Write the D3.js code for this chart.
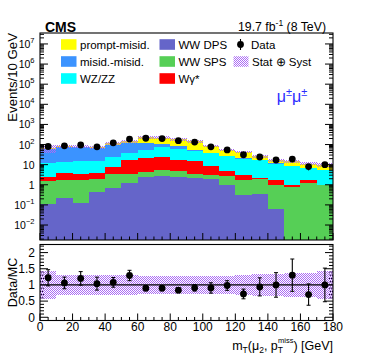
<!DOCTYPE html>
<html>
<head>
<meta charset="utf-8">
<script src="https://cdn.jsdelivr.net/npm/d3@7"></script>
<style>
  body { margin: 0; background: #fff; }
  text { font-family: "Liberation Sans", Arial, Helvetica, sans-serif; fill: #000; }
</style>
</head>
<body>
<div id="chart"></div>
<script>
// bin low edges, 10 GeV wide
const bins = [0, 10, 20, 30, 40, 50, 60, 70, 80, 90, 100, 110, 120, 130, 140, 150, 160, 170];
const binWidth = 10;

// backgrounds (events / bin), bottom of stack first
const wwDps       = [0.11, 0.22, 0.13, 0.44, 0.66, 1.26, 2.5, 2.8, 2.5, 2.2, 1.9, 1.0, 0.31, 0.34, 0.062, 0, 0, 0];
const wwSps       = [1.4, 1.5, 1.6, 1.6, 2.8, 2.1, 2.0, 2.5, 2.3, 1.1, 1.1, 1.8, 1.5, 1.5, 0.94, 0.78, 1.2, 1.0];
const wGamma      = [1.0, 2.0, 1.7, 2.0, 4.4, 13.6, 16.5, 17.7, 12.7, 11.3, 5.2, 2.2, 1.2, 0.4, 0.7, 0.22, 0.5, 0];
const wzZz        = [9, 9.3, 11.1, 11.5, 15.1, 22, 34, 50, 44.5, 34.4, 29.8, 21, 17, 14.4, 9.6, 7.5, 4.8, 4.4];
const misidMisid  = [50, 59, 57.5, 52.5, 77, 85, 64, 33, 19, 6, 2, 1, 1, 0.4, 0.2, 0.2, 0.1, 0.1];
const promptMisid = [4, 9, 7, 6, 13, 20, 109, 114, 104, 90, 45, 28, 22, 8.5, 5.5, 5.9, 4.8, 4.5];

// observed
const dataCounts = [80, 86, 95, 77, 122, 186, 205, 198, 155, 132, 77, 54, 31, 24, 17, 19, 8, 10];
// error bars drawn in the ratio panel
const ratioErr = [0.25, 0.18, 0.21, 0.2, 0.15, 0.16, 0.08, 0.08, 0.08, 0.1, 0.16, 0.15, 0.15, 0.28, 0.38, 0.5, 0.33, 0.52];
// relative stat+syst uncertainty on the prediction, ratio panel and upper panel
const mcRelUnc    = [0.43, 0.3, 0.3, 0.3, 0.3, 0.3, 0.28, 0.28, 0.28, 0.29, 0.28, 0.28, 0.3, 0.33, 0.34, 0.38, 0.38, 0.43];
const mcRelUncTop = [0.42, 0.15, 0.15, 0.15, 0.15, 0.15, 0.15, 0.15, 0.15, 0.15, 0.15, 0.15, 0.16, 0.17, 0.18, 0.2, 0.2, 0.25];

const xTicks = [0, 20, 40, 60, 80, 100, 120, 140, 160, 180];
const logTicks = [-2, -1, 0, 1, 2, 3, 4, 5, 6, 7];
const ratioTicks = [0, 0.5, 1, 1.5, 2];

const keys = ['wwDps', 'wwSps', 'wGamma', 'wzZz', 'misidMisid', 'promptMisid'];
const colors = {
  wwDps: '#6565c9',
  wwSps: '#56cf56',
  wGamma: '#ff0000',
  wzZz: '#00ffff',
  misidMisid: '#3b93ff',
  promptMisid: '#ffff00'
};

const W = 374, H = 359;
const left = 40, right = 333;
const top1 = 33, bottom1 = 240;
const top2 = 244.5, bottom2 = 320.5;

const svg = d3.select('#chart').append('svg')
  .attr('width', W)
  .attr('height', H);

const defs = svg.append('defs');
const hatch = defs.append('pattern')
  .attr('id', 'hatch')
  .attr('patternUnits', 'userSpaceOnUse')
  .attr('width', 2)
  .attr('height', 2);
hatch.append('rect').attr('x', 0).attr('y', 0).attr('width', 1).attr('height', 1).attr('fill', '#ab6cf3');
hatch.append('rect').attr('x', 1).attr('y', 1).attr('width', 1).attr('height', 1).attr('fill', '#ab6cf3');

defs.append('clipPath').attr('id', 'clip1')
  .append('rect').attr('x', left).attr('y', top1).attr('width', right - left).attr('height', bottom1 - top1);
defs.append('clipPath').attr('id', 'clip2')
  .append('rect').attr('x', left).attr('y', top2).attr('width', right - left).attr('height', bottom2 - top2);

const x = d3.scaleLinear().domain([0, 180]).range([left, right]);
const yMin = 0.0018, yMax = 3.5e7;
const y = d3.scaleLog().domain([yMin, yMax]).range([bottom1, top1]).clamp(true);
const yr = d3.scaleLinear().domain([-0.1, 2.25]).range([bottom2, top2]);

const table = bins.map((b, i) => ({
  bin: b,
  wwDps: wwDps[i],
  wwSps: wwSps[i],
  wGamma: wGamma[i],
  wzZz: wzZz[i],
  misidMisid: misidMisid[i],
  promptMisid: promptMisid[i]
}));
const series = d3.stack().keys(keys)(table);
const totals = table.map((d, i) => series[series.length - 1][i][1]);

// ---------- upper panel ----------
const g1 = svg.append('g').attr('clip-path', 'url(#clip1)');

series.forEach(s => {
  g1.append('g')
    .selectAll('rect')
    .data(s.filter(d => d[1] - d[0] > 0))
    .join('rect')
      .attr('x', d => x(d.data.bin))
      .attr('width', d => x(d.data.bin + binWidth) - x(d.data.bin))
      .attr('y', d => y(Math.max(d[1], yMin)))
      .attr('height', d => y(Math.max(d[0], yMin)) - y(Math.max(d[1], yMin)))
      .attr('fill', colors[s.key])
      .attr('shape-rendering', 'crispEdges');
});

g1.append('g')
  .selectAll('rect')
  .data(bins)
  .join('rect')
    .attr('x', b => x(b))
    .attr('width', b => x(b + binWidth) - x(b))
    .attr('y', (b, i) => y(totals[i] * (1 + mcRelUncTop[i])))
    .attr('height', (b, i) => y(totals[i] * (1 - mcRelUncTop[i])) - y(totals[i] * (1 + mcRelUncTop[i])))
    .attr('fill', 'url(#hatch)')
    .attr('shape-rendering', 'crispEdges');

const pts1 = g1.append('g');
pts1.selectAll('line')
  .data(bins)
  .join('line')
    .attr('x1', b => x(b + binWidth / 2))
    .attr('x2', b => x(b + binWidth / 2))
    .attr('y1', (b, i) => y(dataCounts[i] + Math.sqrt(dataCounts[i])))
    .attr('y2', (b, i) => y(dataCounts[i] - Math.sqrt(dataCounts[i])))
    .attr('stroke', '#000')
    .attr('stroke-width', 1);
pts1.selectAll('circle')
  .data(bins)
  .join('circle')
    .attr('cx', b => x(b + binWidth / 2))
    .attr('cy', (b, i) => y(dataCounts[i]))
    .attr('r', 3.4)
    .attr('fill', '#000');

// frame + ticks upper
svg.append('rect')
  .attr('x', left).attr('y', top1)
  .attr('width', right - left).attr('height', bottom1 - top1)
  .attr('fill', 'none').attr('stroke', '#000').attr('stroke-width', 1.1);

const ticks = svg.append('g').attr('stroke', '#000').attr('stroke-width', 1);
const minorLog = [];
for (let e = -3; e <= 7; e++) {
  for (let m = 2; m <= 9; m++) {
    const v = m * Math.pow(10, e);
    if (v > yMin && v < yMax) minorLog.push(v);
  }
}
logTicks.forEach(e => {
  const yy = y(Math.pow(10, e));
  ticks.append('line').attr('x1', left).attr('x2', left + 8).attr('y1', yy).attr('y2', yy);
  ticks.append('line').attr('x1', right).attr('x2', right - 8).attr('y1', yy).attr('y2', yy);
});
minorLog.forEach(v => {
  const yy = y(v);
  ticks.append('line').attr('x1', left).attr('x2', left + 4).attr('y1', yy).attr('y2', yy);
  ticks.append('line').attr('x1', right).attr('x2', right - 4).attr('y1', yy).attr('y2', yy);
});

const xMinor = [];
for (let v = 5; v < 180; v += 5) if (v % 20 !== 0) xMinor.push(v);

function xTickMarks(yBase) {
  xTicks.forEach(v => {
    ticks.append('line').attr('x1', x(v)).attr('x2', x(v)).attr('y1', yBase).attr('y2', yBase - 7);
  });
  xMinor.forEach(v => {
    ticks.append('line').attr('x1', x(v)).attr('x2', x(v)).attr('y1', yBase).attr('y2', yBase - 3.5);
  });
}
xTickMarks(bottom1);

const yLab = svg.append('g').attr('font-size', 10.5).attr('text-anchor', 'end');
logTicks.forEach(e => {
  const t = yLab.append('text')
    .attr('x', 34.5)
    .attr('y', y(Math.pow(10, e)) + 4);
  if (e === 0) t.text('1');
  else if (e === 1) t.text('10');
  else {
    t.append('tspan').text('10');
    t.append('tspan').attr('dy', -5).attr('font-size', 7.5).text(e < 0 ? '\u2212' + (-e) : e);
  }
});

// ---------- ratio panel ----------
const g2 = svg.append('g').attr('clip-path', 'url(#clip2)');
g2.append('g')
  .selectAll('rect')
  .data(bins)
  .join('rect')
    .attr('x', b => x(b))
    .attr('width', b => x(b + binWidth) - x(b))
    .attr('y', (b, i) => yr(1 + mcRelUnc[i]))
    .attr('height', (b, i) => yr(1 - mcRelUnc[i]) - yr(1 + mcRelUnc[i]))
    .attr('fill', 'url(#hatch)')
    .attr('shape-rendering', 'crispEdges');

g2.append('line')
  .attr('x1', left).attr('x2', right)
  .attr('y1', yr(1)).attr('y2', yr(1))
  .attr('stroke', '#000').attr('stroke-width', 1.2);

const ratio = dataCounts.map((d, i) => d / totals[i]);
const pts2 = g2.append('g');
pts2.selectAll('line')
  .data(bins)
  .join('line')
    .attr('x1', b => x(b + binWidth / 2))
    .attr('x2', b => x(b + binWidth / 2))
    .attr('y1', (b, i) => yr(ratio[i] + ratioErr[i]))
    .attr('y2', (b, i) => yr(ratio[i] - ratioErr[i]))
    .attr('stroke', '#000')
    .attr('stroke-width', 1.1);
pts2.selectAll('path')
  .data(bins)
  .join('path')
    .attr('d', (b, i) => {
      const cx = x(b + binWidth / 2), e = ratioErr[i];
      const a = yr(ratio[i] + e), c = yr(ratio[i] - e);
      return `M${cx - 2},${a}H${cx + 2}M${cx - 2},${c}H${cx + 2}`;
    })
    .attr('stroke', '#000')
    .attr('stroke-width', 1);
pts2.selectAll('circle')
  .data(bins)
  .join('circle')
    .attr('cx', b => x(b + binWidth / 2))
    .attr('cy', (b, i) => yr(ratio[i]))
    .attr('r', 3.4)
    .attr('fill', '#000');

svg.append('rect')
  .attr('x', left).attr('y', top2)
  .attr('width', right - left).attr('height', bottom2 - top2)
  .attr('fill', 'none').attr('stroke', '#000').attr('stroke-width', 1.1);

ratioTicks.forEach(v => {
  ticks.append('line').attr('x1', left).attr('x2', left + 8).attr('y1', yr(v)).attr('y2', yr(v));
  ticks.append('line').attr('x1', right).attr('x2', right - 8).attr('y1', yr(v)).attr('y2', yr(v));
});
for (let k = -1; k <= 22; k++) {
  const v = k / 10;
  if (Math.abs(v * 2 - Math.round(v * 2)) < 1e-9) continue;
  ticks.append('line').attr('x1', left).attr('x2', left + 4).attr('y1', yr(v)).attr('y2', yr(v));
  ticks.append('line').attr('x1', right).attr('x2', right - 4).attr('y1', yr(v)).attr('y2', yr(v));
}
xTickMarks(bottom2);

const rLab = svg.append('g').attr('font-size', 12).attr('text-anchor', 'end');
ratioTicks.forEach(v => {
  rLab.append('text').attr('x', 35).attr('y', yr(v) + 4.3).text(v);
});

const xLab = svg.append('g').attr('font-size', 12).attr('text-anchor', 'middle');
xTicks.forEach(v => {
  xLab.append('text').attr('x', x(v)).attr('y', 331).text(v);
});

// ---------- titles & legend ----------
svg.append('text')
  .attr('transform', 'translate(16.5,33) rotate(-90)')
  .attr('text-anchor', 'end')
  .attr('font-size', 13.2)
  .text('Events/10 GeV');

svg.append('text')
  .attr('transform', `translate(16.5,${(top2 + bottom2) / 2}) rotate(-90)`)
  .attr('text-anchor', 'middle')
  .attr('font-size', 12.5)
  .text('Data/MC');

// x title: p_T with "miss" above the T
const xt = svg.append('text')
  .attr('x', right).attr('y', 350)
  .attr('text-anchor', 'end')
  .attr('font-size', 12.5);
xt.append('tspan').text('m');
xt.append('tspan').attr('font-size', 8.5).attr('dy', 2.5).text('T');
xt.append('tspan').attr('dy', -2.5).text('(\u03bc');
xt.append('tspan').attr('font-size', 8.5).attr('dy', 2.5).text('2');
xt.append('tspan').attr('dy', -2.5).text(', p');
xt.append('tspan').attr('font-size', 8.5).attr('dy', 2.5).text('T');
xt.append('tspan').attr('font-size', 7.5).attr('dx', -5).attr('dy', -10).text('miss');
xt.append('tspan').attr('dy', 7.5).text(') [GeV]');

svg.append('text')
  .attr('x', 45).attr('y', 31.5)
  .attr('font-size', 14).attr('font-weight', 'bold')
  .text('CMS');

const lumi = svg.append('text')
  .attr('x', 326).attr('y', 30.5)
  .attr('text-anchor', 'end')
  .attr('font-size', 12.3);
lumi.append('tspan').text('19.7 fb');
lumi.append('tspan').attr('font-size', 8.5).attr('dy', -5).text('-1');
lumi.append('tspan').attr('dy', 5).text(' (8 TeV)');

const chan = svg.append('text')
  .attr('x', 292).attr('y', 101.5)
  .attr('text-anchor', 'middle')
  .attr('font-family', '"Liberation Serif", "Times New Roman", serif')
  .attr('font-size', 16)
  .style('fill', '#2b2bff');
chan.append('tspan').text('\u03bc');
chan.append('tspan').attr('font-size', 11).attr('dy', -6).text('\u00b1');
chan.append('tspan').attr('dy', 6).text('\u03bc');
chan.append('tspan').attr('font-size', 11).attr('dy', -6).text('\u00b1');

const legendRows = [44.5, 61.5, 78.5];
const legendItems = [
  {key: 'promptMisid', label: 'prompt-misid.', col: 0, row: 0},
  {key: 'misidMisid', label: 'misid.-misid.', col: 0, row: 1},
  {key: 'wzZz', label: 'WZ/ZZ', col: 0, row: 2},
  {key: 'wwDps', label: 'WW DPS', col: 1, row: 0},
  {key: 'wwSps', label: 'WW SPS', col: 1, row: 1},
  {key: 'wGamma', label: 'W\u03b3*', col: 1, row: 2}
];
const colX = [61, 159.5];
const leg = svg.append('g').attr('font-size', 11.5);
legendItems.forEach(it => {
  const cy = legendRows[it.row];
  leg.append('rect')
    .attr('x', colX[it.col]).attr('y', cy - 5.3)
    .attr('width', 15.5).attr('height', 10.6)
    .attr('fill', colors[it.key]);
  leg.append('text')
    .attr('x', colX[it.col] + 19).attr('y', cy + 4)
    .text(it.label);
});
// data entry
leg.append('line')
  .attr('x1', 240.5).attr('x2', 240.5)
  .attr('y1', legendRows[0] - 5.5).attr('y2', legendRows[0] + 5.5)
  .attr('stroke', '#000').attr('stroke-width', 1.1);
leg.append('circle')
  .attr('cx', 240.5).attr('cy', legendRows[0]).attr('r', 3.4).attr('fill', '#000');
leg.append('text').attr('x', 251).attr('y', legendRows[0] + 4).text('Data');
// band entry
leg.append('rect')
  .attr('x', 233.5).attr('y', legendRows[1] - 5.3)
  .attr('width', 15).attr('height', 10.6)
  .attr('fill', 'url(#hatch)');
leg.append('text').attr('x', 252).attr('y', legendRows[1] + 4).text('Stat \u2295 Syst');
</script>
</body>
</html>
